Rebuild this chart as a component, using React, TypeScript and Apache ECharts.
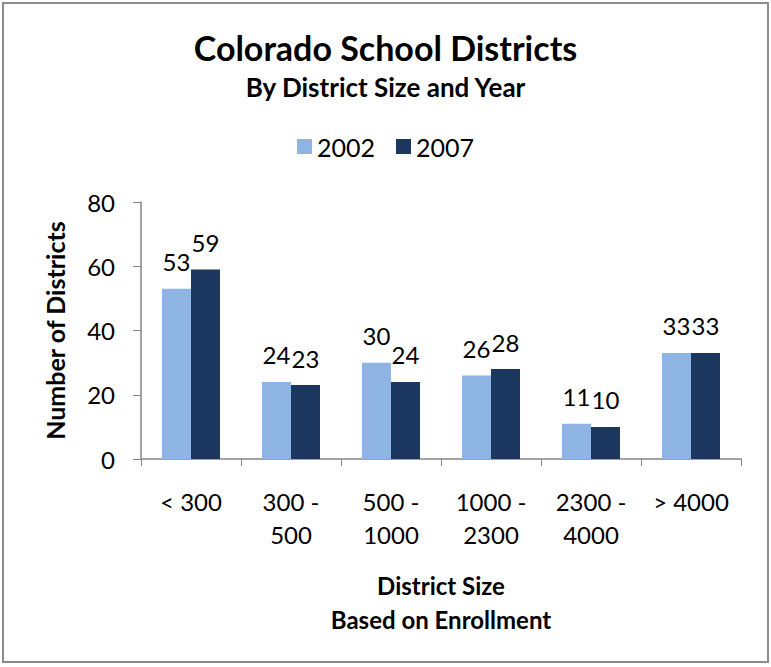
import React, { useEffect, useRef } from "react";
import * as echarts from "echarts";

const categories = ["< 300", "300 -\n500", "500 -\n1000", "1000 -\n2300", "2300 -\n4000", "> 4000"];
const values2002 = [53, 24, 30, 26, 11, 33];
const values2007 = [59, 23, 24, 28, 10, 33];
const yTicks = { min: 0, max: 80, interval: 20 };

export default function App() {
  const ref = useRef<HTMLDivElement>(null);
  useEffect(() => {
    const chart = echarts.init(ref.current!, null, { renderer: "svg" });
    const font = "Lato, 'Open Sans', sans-serif";
    const axisColor = "#868686";
    const labelStyle = { show: true, position: "top", distance: 15, fontFamily: font, fontSize: 24, color: "#000" };
    chart.setOption({
      animation: false,
      backgroundColor: "#ffffff",
      textStyle: { fontFamily: font },
      title: [
        {
          text: "Colorado School Districts",
          left: "center",
          top: 25,
          textStyle: { fontFamily: font, fontSize: 34, fontWeight: "bold", color: "#000" },
        },
        {
          text: "By District Size and Year",
          left: "center",
          top: 69,
          textStyle: { fontFamily: font, fontSize: 26, fontWeight: "bold", color: "#000" },
        },
      ],
      legend: {
        top: 129,
        left: "center",
        itemWidth: 15,
        itemHeight: 15,
        itemGap: 21,
        icon: "rect",
        textStyle: { fontFamily: font, fontSize: 25, color: "#000" },
        data: ["2002", "2007"],
      },
      grid: { left: 141, right: 30, top: 202, bottom: 208, containLabel: false },
      xAxis: {
        type: "category",
        data: categories,
        name: "District Size\nBased on Enrollment",
        nameLocation: "middle",
        nameGap: 109,
        nameTextStyle: { fontFamily: font, fontSize: 24, fontWeight: "bold", color: "#000", lineHeight: 34 },
        axisLine: { lineStyle: { color: axisColor, width: 1.5 } },
        axisTick: { show: true, length: 7, alignWithLabel: false, lineStyle: { color: axisColor } },
        axisLabel: { fontFamily: font, fontSize: 24, color: "#000", lineHeight: 33, margin: 26, interval: 0 },
      },
      yAxis: {
        type: "value",
        min: yTicks.min,
        max: yTicks.max,
        interval: yTicks.interval,
        name: "Number of Districts",
        nameLocation: "middle",
        nameGap: 74,
        nameRotate: 90,
        nameTextStyle: { fontFamily: font, fontSize: 25, fontWeight: "bold", color: "#000" },
        axisLine: { show: true, lineStyle: { color: axisColor, width: 1.5 } },
        axisTick: { show: true, length: 8, lineStyle: { color: axisColor } },
        axisLabel: { fontFamily: font, fontSize: 24, color: "#000", margin: 26 },
        splitLine: { show: false },
      },
      series: [
        {
          name: "2002",
          type: "bar",
          data: values2002,
          barGap: "0%",
          barCategoryGap: "42%",
          itemStyle: { color: "#8EB4E3" },
          label: labelStyle,
        },
        {
          name: "2007",
          type: "bar",
          data: values2007,
          barGap: "0%",
          barCategoryGap: "42%",
          itemStyle: { color: "#1B375F" },
          label: labelStyle,
        },
      ],
    });
    return () => chart.dispose();
  }, []);
  return (
    <div
      style={{
        position: "absolute",
        left: 0,
        top: 0,
        width: 771,
        height: 667,
        boxSizing: "border-box",
        background: "#fff",
      }}
    >
      <div
        style={{
          position: "absolute",
          left: 2,
          top: 2,
          width: 767,
          height: 661,
          border: "2px solid #8c8c8c",
          boxSizing: "border-box",
          pointerEvents: "none",
          zIndex: 2,
        }}
      />
      <div ref={ref} style={{ width: 771, height: 667 }} />
    </div>
  );
}
